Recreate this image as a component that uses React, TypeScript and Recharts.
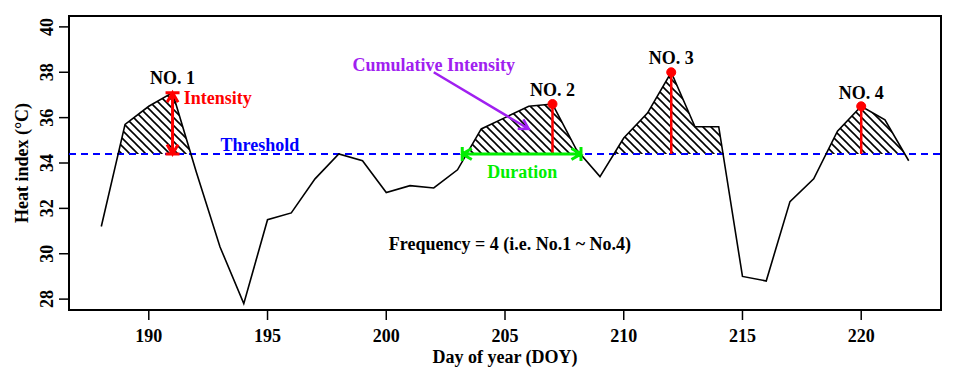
import React from 'react';
import {
	ComposedChart,
	Line,
	Area,
	XAxis,
	YAxis,
	ReferenceLine,
	ReferenceDot,
	ReferenceArea,
	Label,
} from 'recharts';

// daily heat index series
const days = [
	188, 189, 190, 191, 192, 193, 194, 195, 196, 197, 198, 199, 200, 201, 202, 203, 204, 205,
	206, 207, 208, 209, 210, 211, 212, 213, 214, 215, 216, 217, 218, 219, 220, 221, 222,
];
const heatIndex = [
	31.2, 35.7, 36.5, 37.1, 33.6, 30.3, 27.8, 31.5, 31.8, 33.3, 34.4, 34.1, 32.7, 33.0, 32.9, 33.7, 35.5, 36.0,
	36.5, 36.6, 34.6, 33.4, 35.1, 36.2, 38.0, 35.6, 35.6, 29.0, 28.8, 32.3, 33.3, 35.4, 36.5, 35.9, 34.1,
];
const threshold = 34.4;

const xTicks = [190, 195, 200, 205, 210, 215, 220];
const yTicks = [28, 30, 32, 34, 36, 38, 40];
const xDomain = [186.64, 223.36];
const yDomain = [27.52, 40.48];

// events (peak day of each heat wave)
const eventNames = ['NO. 1', 'NO. 2', 'NO. 3', 'NO. 4'];
const eventPeakDays = [191, 207, 212, 220];
const eventLabelY = [37.76, 37.23, 38.63, 37.09];

// annotation arrows (day, heat index)
const durationSpan = [203.2, 208.2];
const cumulativeFrom = [202, 38.0];
const cumulativeTo = [206, 35.5];

// free text notes
const noteTexts = ['Intensity', 'Threshold', 'Cumulative Intensity', 'Duration', 'Frequency = 4 (i.e. No.1 ~ No.4)'];
const noteDays = [192.9, 194.68, 202.0, 205.73, 205.21];
const noteValues = [36.87, 34.81, 38.33, 33.59, 30.43];
const noteColors = ['#FF0000', '#0000FF', '#A020F0', '#00EE00', '#000000'];

const data = days.map((day, i) => ({ day, heat: heatIndex[i] }));
const heatAt = (d: number) => heatIndex[days.indexOf(d)];

const W = 944;
const H = 360;
const M = { top: 8, right: 11, bottom: 8, left: 8 };
const Y_AXIS_W = 53;
const X_AXIS_H = 50;
const plotLeft = M.left + Y_AXIS_W;
const plotW = W - plotLeft - M.right;
const plotH = H - M.top - M.bottom - X_AXIS_H;
const thresholdPx = M.top + ((yDomain[1] - threshold) / (yDomain[1] - yDomain[0])) * plotH;

const FONT = "'Liberation Serif', 'Times New Roman', serif";
const txt = { fontFamily: FONT, fontWeight: 700, fontSize: 18 };

const XTick = ({ x, y, payload }: any) => (
	<text x={x} y={y + 16} textAnchor="middle" dominantBaseline="central" fill="#000" style={txt}>
		{payload.value}
	</text>
);

const YTick = ({ x, y, payload }: any) => (
	<text
		x={x - 12}
		y={y}
		transform={`rotate(-90 ${x - 12} ${y})`}
		textAnchor="middle"
		dominantBaseline="central"
		fill="#000"
		style={txt}>
		{payload.value}
	</text>
);

const noteShape = (text: string, color: string) => (p: any) => (
	<text x={p.cx} y={p.cy} textAnchor="middle" dominantBaseline="central" fill={color} style={txt}>
		{text}
	</text>
);

const arrowShape = (bothHeads: boolean, bars: boolean) => (p: any) => {
	const { x1, y1, x2, y2, stroke, strokeWidth } = p;
	const a = Math.atan2(y2 - y1, x2 - x1);
	const L = 11;
	const s = Math.PI / 6;
	const head = (x: number, y: number, b: number) =>
		`M${x + L * Math.cos(b + s)},${y + L * Math.sin(b + s)} L${x},${y} L${x + L * Math.cos(b - s)},${y + L * Math.sin(b - s)}`;
	const bar = (x: number, y: number) => {
		const px = 7 * Math.cos(a + Math.PI / 2);
		const py = 7 * Math.sin(a + Math.PI / 2);
		return `M${x - px},${y - py} L${x + px},${y + py}`;
	};
	let d = `M${x1},${y1} L${x2},${y2} ` + head(x2, y2, a + Math.PI);
	if (bothHeads) d += ' ' + head(x1, y1, a);
	if (bars) d += ' ' + bar(x1, y1) + ' ' + bar(x2, y2);
	return <path d={d} stroke={stroke} strokeWidth={strokeWidth} fill="none" />;
};

export default function App() {
	return (
		<div style={{ width: W, height: H }}>
			<style>{`.hatch { clip-path: url(#aboveThreshold); }`}</style>
			<ComposedChart width={W} height={H} data={data} margin={M}>
				<defs>
					<pattern id="hatch" width={8} height={8} patternUnits="userSpaceOnUse">
						<path d="M0,0 L8,8 M-4,4 L4,12 M4,-4 L12,4" stroke="#000" strokeWidth={1.6} />
					</pattern>
					<clipPath id="aboveThreshold">
						<rect x={plotLeft} y={M.top} width={plotW} height={thresholdPx - M.top} />
					</clipPath>
				</defs>
				<XAxis
					dataKey="day"
					type="number"
					domain={xDomain}
					ticks={xTicks}
					allowDataOverflow
					height={X_AXIS_H}
					axisLine={false}
					tickSize={10}
					tickMargin={0}
					tickLine={{ stroke: '#000', strokeWidth: 1.5 }}
					tick={<XTick />}>
					<Label
						content={({ viewBox }: any) => (
							<text
								x={viewBox.x + viewBox.width / 2}
								y={viewBox.y + 47}
								textAnchor="middle"
								dominantBaseline="central"
								style={txt}>
								Day of year (DOY)
							</text>
						)}
					/>
				</XAxis>
				<YAxis
					type="number"
					domain={yDomain}
					ticks={yTicks}
					allowDataOverflow
					width={Y_AXIS_W}
					axisLine={false}
					tickSize={10}
					tickMargin={0}
					tickLine={{ stroke: '#000', strokeWidth: 1.5 }}
					tick={<YTick />}>
					<Label
						content={({ viewBox }: any) => {
							const cx = viewBox.x + 6;
							const cy = viewBox.y + viewBox.height / 2;
							return (
								<text
									x={cx}
									y={cy}
									transform={`rotate(-90 ${cx} ${cy})`}
									textAnchor="middle"
									dominantBaseline="central"
									style={txt}>
									Heat index (°C)
								</text>
							);
						}}
					/>
				</YAxis>
				<ReferenceArea
					x1={xDomain[0]}
					x2={xDomain[1]}
					y1={yDomain[0]}
					y2={yDomain[1]}
					fill="none"
					fillOpacity={0}
					stroke="#000"
					strokeWidth={2}
				/>
				<Area
					dataKey="heat"
					type="linear"
					baseValue={threshold}
					fill="url(#hatch)"
					fillOpacity={1}
					stroke="none"
					className="hatch"
					isAnimationActive={false}
				/>
				<ReferenceLine y={threshold} stroke="#0000FF" strokeWidth={2} strokeDasharray="7 5" />
				<Line
					dataKey="heat"
					type="linear"
					stroke="#000"
					strokeWidth={1.6}
					dot={false}
					isAnimationActive={false}
				/>
				{/* intensity of event 1 */}
				<ReferenceLine
					segment={[
						{ x: eventPeakDays[0], y: threshold },
						{ x: eventPeakDays[0], y: heatAt(eventPeakDays[0]) },
					]}
					stroke="#FF0000"
					strokeWidth={3}
					shape={arrowShape(true, true)}
				/>
				{eventPeakDays.slice(1).map((d) => (
					<ReferenceLine
						key={'seg' + d}
						segment={[
							{ x: d, y: threshold },
							{ x: d, y: heatAt(d) },
						]}
						stroke="#FF0000"
						strokeWidth={2.5}
					/>
				))}
				{eventPeakDays.slice(1).map((d) => (
					<ReferenceDot key={'dot' + d} x={d} y={heatAt(d)} r={4.5} fill="#FF0000" stroke="#FF0000" />
				))}
				<ReferenceLine
					segment={[
						{ x: durationSpan[0], y: threshold },
						{ x: durationSpan[1], y: threshold },
					]}
					stroke="#00EE00"
					strokeWidth={3}
					shape={arrowShape(true, true)}
				/>
				<ReferenceLine
					segment={[
						{ x: cumulativeFrom[0], y: cumulativeFrom[1] },
						{ x: cumulativeTo[0], y: cumulativeTo[1] },
					]}
					stroke="#A020F0"
					strokeWidth={2.5}
					shape={arrowShape(false, false)}
				/>
				{eventNames.map((name, i) => (
					<ReferenceDot
						key={name}
						x={eventPeakDays[i]}
						y={eventLabelY[i]}
						r={1}
						shape={noteShape(name, '#000')}
					/>
				))}
				{noteTexts.map((t, i) => (
					<ReferenceDot
						key={t}
						x={noteDays[i]}
						y={noteValues[i]}
						r={1}
						shape={noteShape(t, noteColors[i])}
					/>
				))}
			</ComposedChart>
		</div>
	);
}
